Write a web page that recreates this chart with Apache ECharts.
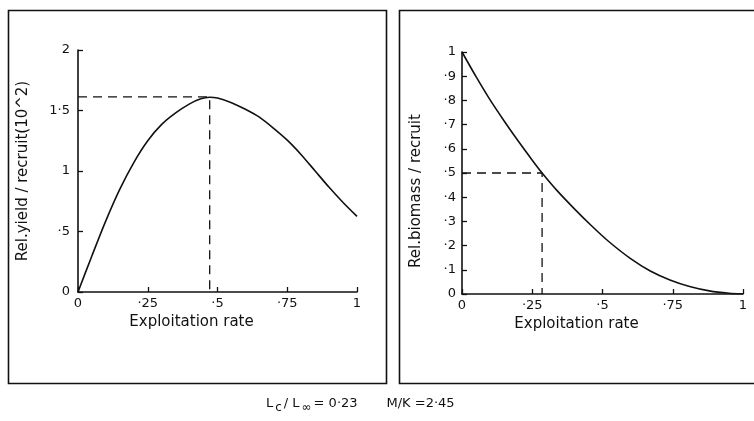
<!DOCTYPE html>
<html>
<head>
<meta charset="utf-8">
<script src="https://cdn.jsdelivr.net/npm/echarts@6/dist/echarts.min.js"></script>
<style>
html,body{margin:0;padding:0;background:#fff;}
#chart{width:754px;height:421px;}
</style>
</head>
<body>
<div id="chart"></div>
<script>
// ---- data ----
var yieldE = [0, 0.05, 0.1, 0.15, 0.2, 0.25, 0.3, 0.35, 0.4, 0.44, 0.472, 0.5, 0.55, 0.6, 0.65, 0.7, 0.75, 0.8, 0.85, 0.9, 0.95, 1.0];
var yieldY = [0, 0.3, 0.59, 0.85, 1.07, 1.25, 1.385, 1.48, 1.555, 1.597, 1.61, 1.603, 1.565, 1.51, 1.445, 1.355, 1.255, 1.135, 1.0, 0.865, 0.74, 0.625];
var bioE = [0, 0.05, 0.1, 0.15, 0.2, 0.25, 0.285, 0.34, 0.4, 0.46, 0.52, 0.6, 0.67, 0.74, 0.81, 0.88, 0.95, 1];
var bioY = [1, 0.898, 0.802, 0.715, 0.632, 0.553, 0.5, 0.425, 0.352, 0.283, 0.219, 0.146, 0.095, 0.058, 0.031, 0.013, 0.003, 0];
var yieldPeak = [0.472, 1.612];
var bioHalf = [0.285, 0.5];
var xTickLabels = {'0':'0','0.25':'·25','0.5':'·5','0.75':'·75','1':'1'};
var yieldTickLabels = {'0':'0','0.5':'·5','1':'1','1.5':'1·5','2':'2'};
var bioTickLabels = {'0':'0','0.1':'·1','0.2':'·2','0.3':'·3','0.4':'·4','0.5':'·5','0.6':'·6','0.7':'·7','0.8':'·8','0.9':'·9','1':'1'};
var xName = 'Exploitation rate';
var yieldName = 'Rel.yield / recruit(10^2)';
var bioName = 'Rel.biomass / recruit';

function zip(a, b) { return a.map(function (v, i) { return [v, b[i]]; }); }
function fmt(map) { return function (v) { var k = String(Math.round(v * 100) / 100); return map[k] !== undefined ? map[k] : ''; }; }

var FONT = 'DejaVu Sans';
var axisLine = { lineStyle: { color: '#111', width: 1.6 } };
var axisTick = { inside: true, length: 5, lineStyle: { color: '#111', width: 1.3 } };

function xAxis(gi) {
  return {
    type: 'value', gridIndex: gi, min: 0, max: 1, interval: 0.25,
    axisLine: axisLine, axisTick: axisTick, splitLine: { show: false },
    axisLabel: { formatter: fmt(xTickLabels), color: '#111', fontFamily: FONT, fontSize: 13, margin: 5 },
    name: xName, nameLocation: 'middle', nameGap: 22,
    nameTextStyle: { color: '#111', fontFamily: FONT, fontSize: 15, padding: [0, 52, 0, 0] }
  };
}

var chart = echarts.init(document.getElementById('chart'));
chart.setOption({
  animation: false,
  backgroundColor: '#fff',
  grid: [
    { left: 78, top: 50, width: 279, height: 242 },
    { left: 462, top: 52, width: 281, height: 242 }
  ],
  xAxis: [xAxis(0), xAxis(1)],
  yAxis: [
    {
      type: 'value', gridIndex: 0, min: 0, max: 2, interval: 0.5,
      axisLine: axisLine, axisTick: axisTick, splitLine: { show: false },
      axisLabel: { formatter: fmt(yieldTickLabels), color: '#111', fontFamily: FONT, fontSize: 13, margin: 8 },
      name: yieldName, nameLocation: 'middle', nameGap: 47, nameRotate: 90,
      nameTextStyle: { color: '#111', fontFamily: FONT, fontSize: 15 }
    },
    {
      type: 'value', gridIndex: 1, min: 0, max: 1, interval: 0.1,
      axisLine: axisLine, axisTick: axisTick, splitLine: { show: false },
      axisLabel: { formatter: fmt(bioTickLabels), color: '#111', fontFamily: FONT, fontSize: 13, margin: 6 },
      name: bioName, nameLocation: 'middle', nameGap: 38, nameRotate: 90,
      nameTextStyle: { color: '#111', fontFamily: FONT, fontSize: 15, padding: [0, 36, 0, 0] }
    }
  ],
  series: [
    {
      type: 'line', xAxisIndex: 0, yAxisIndex: 0, data: zip(yieldE, yieldY),
      smooth: 0.25, showSymbol: false, lineStyle: { color: '#111', width: 1.6 }, z: 3
    },
    {
      type: 'line', xAxisIndex: 0, yAxisIndex: 0,
      data: [[0, yieldPeak[1]], [yieldPeak[0], yieldPeak[1]], [yieldPeak[0], 0]],
      showSymbol: false, lineStyle: { color: '#111', width: 1.3, type: [9, 6] }, z: 2
    },
    {
      type: 'line', xAxisIndex: 1, yAxisIndex: 1, data: zip(bioE, bioY),
      smooth: 0.25, showSymbol: false, lineStyle: { color: '#111', width: 1.6 }, z: 3
    },
    {
      type: 'line', xAxisIndex: 1, yAxisIndex: 1,
      data: [[0, bioHalf[1]], [bioHalf[0], bioHalf[1]], [bioHalf[0], 0]],
      showSymbol: false, lineStyle: { color: '#111', width: 1.3, type: [9, 6] }, z: 2
    }
  ],
  graphic: [
    { type: 'rect', shape: { x: 8.5, y: 10.5, width: 378, height: 373 }, style: { fill: 'none', stroke: '#111', lineWidth: 1.6 } },
    { type: 'rect', shape: { x: 399.5, y: 10.5, width: 360, height: 373 }, style: { fill: 'none', stroke: '#111', lineWidth: 1.6 } },
    {
      type: 'text', left: 266, top: 397,
      style: {
        text: 'L{s|c}/ L{s|∞}= 0·23       M/K =2·45',
        fill: '#111', font: '13px "DejaVu Sans"',
        rich: { s: { fontSize: 12, fontFamily: FONT, padding: [8, 2, 0, 2], fill: '#111' } }
      }
    }
  ]
});
</script>
</body>
</html>
